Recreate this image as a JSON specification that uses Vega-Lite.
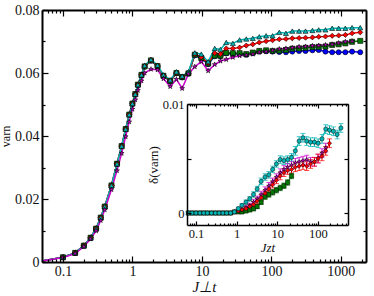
{
"$schema": "https://vega.github.io/schema/vega-lite/v6.json",
"width": 324, "height": 252,
"autosize": {"type": "none"},
"padding": {"left": 42, "top": 10, "right": 8, "bottom": 34},
"config": {
  "view": {"stroke": null},
  "axis": {"grid": false, "domainColor": "#000", "domainWidth": 2, "tickColor": "#000", "tickWidth": 1.2,
    "labelFont": "Liberation Serif", "labelFontSize": 14, "labelColor": "#111", "labelOverlap": false, "labelFlush": false,
    "titleFont": "Liberation Serif", "titleFontStyle": "italic", "titleFontWeight": "normal", "titleFontSize": 15, "titleColor": "#111"}
},
"datasets": {
"main": [
{"s":"B","t":0.05,"v":0.0003},{"s":"B","t":0.1,"v":0.0015},{"s":"B","t":0.15,"v":0.0029},{"s":"B","t":0.2,"v":0.0052},{"s":"B","t":0.25,"v":0.0077},{"s":"B","t":0.3,"v":0.0106},{"s":"B","t":0.35,"v":0.0141},{"s":"B","t":0.4,"v":0.0176},{"s":"B","t":0.5,"v":0.0243},{"s":"B","t":0.6,"v":0.0312},{"s":"B","t":0.7,"v":0.0368},{"s":"B","t":0.8,"v":0.0422},{"s":"B","t":0.9,"v":0.0468},{"s":"B","t":1.0,"v":0.0503},{"s":"B","t":1.1,"v":0.0533},{"s":"B","t":1.2,"v":0.0563},{"s":"B","t":1.35,"v":0.0594},{"s":"B","t":1.5,"v":0.0620},{"s":"B","t":1.85,"v":0.0639},{"s":"B","t":2.3,"v":0.0621},{"s":"B","t":2.8,"v":0.0590},{"s":"B","t":3.5,"v":0.0574},{"s":"B","t":4.3,"v":0.0599},{"s":"B","t":5.2,"v":0.0586},{"s":"B","t":6.4,"v":0.0598},{"s":"B","t":7.9,"v":0.0656},{"s":"B","t":9.8,"v":0.0646},{"s":"B","t":12.3,"v":0.0628},{"s":"B","t":15.3,"v":0.0653},{"s":"B","t":18.5,"v":0.0653},{"s":"B","t":22.4,"v":0.0662},{"s":"B","t":27.9,"v":0.0661},{"s":"B","t":34.9,"v":0.0661},{"s":"B","t":43.5,"v":0.0658},{"s":"B","t":54,"v":0.0663},{"s":"B","t":67,"v":0.0668},{"s":"B","t":84,"v":0.0669},{"s":"B","t":104,"v":0.0668},{"s":"B","t":130,"v":0.0667},{"s":"B","t":162,"v":0.0666},{"s":"B","t":200,"v":0.0668},{"s":"B","t":250,"v":0.0670},{"s":"B","t":310,"v":0.0670},{"s":"B","t":390,"v":0.0672},{"s":"B","t":480,"v":0.0673},{"s":"B","t":600,"v":0.0668},{"s":"B","t":750,"v":0.0666},{"s":"B","t":930,"v":0.0666},{"s":"B","t":1160,"v":0.0666},{"s":"B","t":1450,"v":0.0668},{"s":"B","t":1900,"v":0.0666},
{"s":"G","t":0.05,"v":0.0003},{"s":"G","t":0.1,"v":0.0015},{"s":"G","t":0.15,"v":0.0029},{"s":"G","t":0.2,"v":0.0052},{"s":"G","t":0.25,"v":0.0077},{"s":"G","t":0.3,"v":0.0106},{"s":"G","t":0.35,"v":0.0141},{"s":"G","t":0.4,"v":0.0176},{"s":"G","t":0.5,"v":0.0243},{"s":"G","t":0.6,"v":0.0312},{"s":"G","t":0.7,"v":0.0368},{"s":"G","t":0.8,"v":0.0422},{"s":"G","t":0.9,"v":0.0468},{"s":"G","t":1.0,"v":0.0503},{"s":"G","t":1.1,"v":0.0533},{"s":"G","t":1.2,"v":0.0563},{"s":"G","t":1.35,"v":0.0594},{"s":"G","t":1.5,"v":0.0621},{"s":"G","t":1.85,"v":0.0640},{"s":"G","t":2.3,"v":0.0622},{"s":"G","t":2.8,"v":0.0591},{"s":"G","t":3.5,"v":0.0575},{"s":"G","t":4.3,"v":0.0600},{"s":"G","t":5.2,"v":0.0587},{"s":"G","t":6.4,"v":0.0599},{"s":"G","t":7.9,"v":0.0658},{"s":"G","t":9.8,"v":0.0648},{"s":"G","t":12.3,"v":0.0630},{"s":"G","t":15.3,"v":0.0655},{"s":"G","t":18.5,"v":0.0655},{"s":"G","t":22.4,"v":0.0664},{"s":"G","t":27.9,"v":0.0663},{"s":"G","t":34.9,"v":0.0663},{"s":"G","t":43.5,"v":0.0660},{"s":"G","t":54,"v":0.0665},{"s":"G","t":67,"v":0.0670},{"s":"G","t":84,"v":0.0672},{"s":"G","t":104,"v":0.0670},{"s":"G","t":130,"v":0.0671},{"s":"G","t":162,"v":0.0673},{"s":"G","t":200,"v":0.0677},{"s":"G","t":250,"v":0.0678},{"s":"G","t":310,"v":0.0680},{"s":"G","t":390,"v":0.0682},{"s":"G","t":480,"v":0.0683},{"s":"G","t":600,"v":0.0684},{"s":"G","t":750,"v":0.0689},{"s":"G","t":930,"v":0.0691},{"s":"G","t":1160,"v":0.0694},{"s":"G","t":1450,"v":0.0699},{"s":"G","t":1900,"v":0.0702},
{"s":"R","t":0.05,"v":0.0003},{"s":"R","t":0.1,"v":0.0015},{"s":"R","t":0.15,"v":0.0029},{"s":"R","t":0.2,"v":0.0052},{"s":"R","t":0.25,"v":0.0077},{"s":"R","t":0.3,"v":0.0106},{"s":"R","t":0.35,"v":0.0141},{"s":"R","t":0.4,"v":0.0176},{"s":"R","t":0.5,"v":0.0243},{"s":"R","t":0.6,"v":0.0312},{"s":"R","t":0.7,"v":0.0368},{"s":"R","t":0.8,"v":0.0422},{"s":"R","t":0.9,"v":0.0468},{"s":"R","t":1.0,"v":0.0503},{"s":"R","t":1.1,"v":0.0533},{"s":"R","t":1.2,"v":0.0563},{"s":"R","t":1.35,"v":0.0594},{"s":"R","t":1.5,"v":0.0622},{"s":"R","t":1.85,"v":0.0641},{"s":"R","t":2.3,"v":0.0623},{"s":"R","t":2.8,"v":0.0592},{"s":"R","t":3.5,"v":0.0576},{"s":"R","t":4.3,"v":0.0601},{"s":"R","t":5.2,"v":0.0588},{"s":"R","t":6.4,"v":0.0600},{"s":"R","t":7.9,"v":0.0660},{"s":"R","t":9.8,"v":0.0650},{"s":"R","t":12.3,"v":0.0632},{"s":"R","t":15.3,"v":0.0663},{"s":"R","t":18.5,"v":0.0660},{"s":"R","t":22.4,"v":0.0678},{"s":"R","t":27.9,"v":0.0678},{"s":"R","t":34.9,"v":0.0681},{"s":"R","t":43.5,"v":0.0687},{"s":"R","t":54,"v":0.0691},{"s":"R","t":67,"v":0.0697},{"s":"R","t":84,"v":0.0701},{"s":"R","t":104,"v":0.0704},{"s":"R","t":130,"v":0.0707},{"s":"R","t":162,"v":0.0708},{"s":"R","t":200,"v":0.0710},{"s":"R","t":250,"v":0.0711},{"s":"R","t":310,"v":0.0712},{"s":"R","t":390,"v":0.0713},{"s":"R","t":480,"v":0.0715},{"s":"R","t":600,"v":0.0716},{"s":"R","t":750,"v":0.0718},{"s":"R","t":930,"v":0.0719},{"s":"R","t":1160,"v":0.0721},{"s":"R","t":1450,"v":0.0726},{"s":"R","t":1900,"v":0.0729},
{"s":"C","t":0.05,"v":0.0003},{"s":"C","t":0.1,"v":0.0015},{"s":"C","t":0.15,"v":0.0029},{"s":"C","t":0.2,"v":0.0052},{"s":"C","t":0.25,"v":0.0077},{"s":"C","t":0.3,"v":0.0106},{"s":"C","t":0.35,"v":0.0141},{"s":"C","t":0.4,"v":0.0176},{"s":"C","t":0.5,"v":0.0243},{"s":"C","t":0.6,"v":0.0312},{"s":"C","t":0.7,"v":0.0368},{"s":"C","t":0.8,"v":0.0422},{"s":"C","t":0.9,"v":0.0468},{"s":"C","t":1.0,"v":0.0503},{"s":"C","t":1.1,"v":0.0533},{"s":"C","t":1.2,"v":0.0563},{"s":"C","t":1.35,"v":0.0594},{"s":"C","t":1.5,"v":0.0624},{"s":"C","t":1.85,"v":0.0643},{"s":"C","t":2.3,"v":0.0625},{"s":"C","t":2.8,"v":0.0594},{"s":"C","t":3.5,"v":0.0578},{"s":"C","t":4.3,"v":0.0604},{"s":"C","t":5.2,"v":0.0590},{"s":"C","t":6.4,"v":0.0604},{"s":"C","t":7.9,"v":0.0664},{"s":"C","t":9.8,"v":0.0660},{"s":"C","t":12.3,"v":0.0636},{"s":"C","t":15.3,"v":0.0678},{"s":"C","t":18.5,"v":0.0675},{"s":"C","t":22.4,"v":0.0697},{"s":"C","t":27.9,"v":0.0694},{"s":"C","t":34.9,"v":0.0705},{"s":"C","t":43.5,"v":0.0708},{"s":"C","t":54,"v":0.0710},{"s":"C","t":67,"v":0.0715},{"s":"C","t":84,"v":0.0718},{"s":"C","t":104,"v":0.0718},{"s":"C","t":130,"v":0.0729},{"s":"C","t":162,"v":0.0726},{"s":"C","t":200,"v":0.0733},{"s":"C","t":250,"v":0.0733},{"s":"C","t":310,"v":0.0733},{"s":"C","t":390,"v":0.0735},{"s":"C","t":480,"v":0.0737},{"s":"C","t":600,"v":0.0737},{"s":"C","t":750,"v":0.0742},{"s":"C","t":930,"v":0.0742},{"s":"C","t":1160,"v":0.0742},{"s":"C","t":1450,"v":0.0744},{"s":"C","t":1900,"v":0.0744},
{"s":"M","t":0.05,"v":0.0003},{"s":"M","t":0.1,"v":0.0014},{"s":"M","t":0.15,"v":0.0027},{"s":"M","t":0.2,"v":0.0049},{"s":"M","t":0.25,"v":0.0073},{"s":"M","t":0.3,"v":0.0099},{"s":"M","t":0.35,"v":0.0132},{"s":"M","t":0.4,"v":0.0166},{"s":"M","t":0.5,"v":0.0230},{"s":"M","t":0.6,"v":0.0290},{"s":"M","t":0.7,"v":0.0345},{"s":"M","t":0.8,"v":0.0398},{"s":"M","t":0.9,"v":0.0445},{"s":"M","t":1.0,"v":0.0485},{"s":"M","t":1.1,"v":0.0515},{"s":"M","t":1.2,"v":0.0545},{"s":"M","t":1.35,"v":0.0575},{"s":"M","t":1.5,"v":0.0600},{"s":"M","t":1.85,"v":0.0612},{"s":"M","t":2.3,"v":0.0610},{"s":"M","t":2.8,"v":0.0582},{"s":"M","t":3.5,"v":0.0557},{"s":"M","t":4.3,"v":0.0580},{"s":"M","t":5.2,"v":0.0551},{"s":"M","t":6.4,"v":0.0597},{"s":"M","t":7.9,"v":0.0620},{"s":"M","t":9.8,"v":0.0636},{"s":"M","t":12.3,"v":0.0607},{"s":"M","t":15.3,"v":0.0627},{"s":"M","t":18.5,"v":0.0638},{"s":"M","t":22.4,"v":0.0643},{"s":"M","t":27.9,"v":0.0650},{"s":"M","t":34.9,"v":0.0655},{"s":"M","t":43.5,"v":0.0657},{"s":"M","t":54,"v":0.0660},{"s":"M","t":67,"v":0.0666},{"s":"M","t":84,"v":0.0668},{"s":"M","t":104,"v":0.0672},{"s":"M","t":130,"v":0.0676},{"s":"M","t":162,"v":0.0678},{"s":"M","t":200,"v":0.0680},{"s":"M","t":250,"v":0.0683},{"s":"M","t":310,"v":0.0684},{"s":"M","t":390,"v":0.0686},{"s":"M","t":480,"v":0.0687},{"s":"M","t":600,"v":0.0689},{"s":"M","t":750,"v":0.0691},{"s":"M","t":930,"v":0.0695},{"s":"M","t":1160,"v":0.0699},{"s":"M","t":1450,"v":0.0701}
],
"inset": [
{"s":"G","t":0.065,"d":0,"e":0.00012},{"s":"G","t":0.08,"d":0,"e":0.00012},{"s":"G","t":0.1,"d":0,"e":0.00012},{"s":"G","t":0.125,"d":0,"e":0.00012},{"s":"G","t":0.155,"d":0,"e":0.00012},{"s":"G","t":0.19,"d":0,"e":0.00012},{"s":"G","t":0.24,"d":0,"e":0.00012},{"s":"G","t":0.3,"d":0,"e":0.00012},{"s":"G","t":0.37,"d":0,"e":0.00012},{"s":"G","t":0.46,"d":0,"e":0.00012},{"s":"G","t":0.57,"d":0,"e":0.00012},{"s":"G","t":0.71,"d":0,"e":0.00012},{"s":"G","t":0.88,"d":0.0001,"e":0.00012},{"s":"G","t":1.1,"d":0.0001,"e":0.00015},{"s":"G","t":1.35,"d":0.0001,"e":0.00015},{"s":"G","t":1.7,"d":0.0002,"e":0.00018},{"s":"G","t":2.1,"d":0.0003,"e":0.0002},{"s":"G","t":2.6,"d":0.0004,"e":0.0002},{"s":"G","t":3.2,"d":0.0006,"e":0.0002},{"s":"G","t":4.0,"d":0.0010,"e":0.00022},{"s":"G","t":5.0,"d":0.0015,"e":0.00025},{"s":"G","t":6.2,"d":0.0017,"e":0.00025},{"s":"G","t":7.7,"d":0.0019,"e":0.00025},{"s":"G","t":9.5,"d":0.0021,"e":0.00025},{"s":"G","t":11.8,"d":0.0023,"e":0.00025},{"s":"G","t":14.6,"d":0.0025,"e":0.00025},{"s":"G","t":18,"d":0.0028,"e":0.00025},{"s":"G","t":22.4,"d":0.0034,"e":0.00025},
{"s":"M","t":0.065,"d":0,"e":0.00012},{"s":"M","t":0.08,"d":0,"e":0.00012},{"s":"M","t":0.1,"d":0,"e":0.00012},{"s":"M","t":0.125,"d":0,"e":0.00012},{"s":"M","t":0.155,"d":0,"e":0.00012},{"s":"M","t":0.19,"d":0,"e":0.00012},{"s":"M","t":0.24,"d":0,"e":0.00012},{"s":"M","t":0.3,"d":0,"e":0.00012},{"s":"M","t":0.37,"d":0,"e":0.00012},{"s":"M","t":0.46,"d":0,"e":0.00012},{"s":"M","t":0.57,"d":0,"e":0.00012},{"s":"M","t":0.71,"d":0,"e":0.00012},{"s":"M","t":0.88,"d":0.0001,"e":0.00012},{"s":"M","t":1.1,"d":0.0002,"e":0.00015},{"s":"M","t":1.35,"d":0.0003,"e":0.00015},{"s":"M","t":1.7,"d":0.0005,"e":0.0002},{"s":"M","t":2.1,"d":0.0007,"e":0.0002},{"s":"M","t":2.6,"d":0.0010,"e":0.00025},{"s":"M","t":3.2,"d":0.0013,"e":0.00025},{"s":"M","t":4.0,"d":0.0017,"e":0.0003},{"s":"M","t":5.0,"d":0.0021,"e":0.0003},{"s":"M","t":6.2,"d":0.0025,"e":0.0003},{"s":"M","t":7.7,"d":0.0029,"e":0.0003},{"s":"M","t":9.5,"d":0.0033,"e":0.0003},{"s":"M","t":11.8,"d":0.0037,"e":0.00035},{"s":"M","t":14.6,"d":0.0040,"e":0.00035},{"s":"M","t":18,"d":0.0042,"e":0.00035},{"s":"M","t":22.4,"d":0.0044,"e":0.00035},{"s":"M","t":27.8,"d":0.0046,"e":0.0004},{"s":"M","t":34.5,"d":0.0047,"e":0.0004},{"s":"M","t":42.8,"d":0.0048,"e":0.0004},{"s":"M","t":53,"d":0.0049,"e":0.0004},{"s":"M","t":66,"d":0.0047,"e":0.0004},{"s":"M","t":82,"d":0.0047,"e":0.0004},{"s":"M","t":101,"d":0.0050,"e":0.0004},{"s":"M","t":126,"d":0.0055,"e":0.0004},{"s":"M","t":156,"d":0.0060,"e":0.0004},
{"s":"R","t":0.065,"d":0,"e":0.00012},{"s":"R","t":0.08,"d":0,"e":0.00012},{"s":"R","t":0.1,"d":0,"e":0.00012},{"s":"R","t":0.125,"d":0,"e":0.00012},{"s":"R","t":0.155,"d":0,"e":0.00012},{"s":"R","t":0.19,"d":0,"e":0.00012},{"s":"R","t":0.24,"d":0,"e":0.00012},{"s":"R","t":0.3,"d":0,"e":0.00012},{"s":"R","t":0.37,"d":0,"e":0.00012},{"s":"R","t":0.46,"d":0,"e":0.00012},{"s":"R","t":0.57,"d":0,"e":0.00012},{"s":"R","t":0.71,"d":0,"e":0.00012},{"s":"R","t":0.88,"d":0.0001,"e":0.00012},{"s":"R","t":1.1,"d":0.0002,"e":0.00015},{"s":"R","t":1.35,"d":0.0003,"e":0.00015},{"s":"R","t":1.7,"d":0.0004,"e":0.0002},{"s":"R","t":2.1,"d":0.0006,"e":0.0002},{"s":"R","t":2.6,"d":0.0008,"e":0.00025},{"s":"R","t":3.2,"d":0.0011,"e":0.00025},{"s":"R","t":4.0,"d":0.0014,"e":0.0003},{"s":"R","t":5.0,"d":0.0018,"e":0.0003},{"s":"R","t":6.2,"d":0.0022,"e":0.0003},{"s":"R","t":7.7,"d":0.0026,"e":0.0003},{"s":"R","t":9.5,"d":0.0030,"e":0.0003},{"s":"R","t":11.8,"d":0.0034,"e":0.00035},{"s":"R","t":14.6,"d":0.0037,"e":0.00035},{"s":"R","t":18,"d":0.0039,"e":0.00035},{"s":"R","t":22.4,"d":0.0040,"e":0.00035},{"s":"R","t":27.8,"d":0.0042,"e":0.0004},{"s":"R","t":34.5,"d":0.0043,"e":0.0004},{"s":"R","t":42.8,"d":0.0044,"e":0.0004},{"s":"R","t":53,"d":0.0043,"e":0.0004},{"s":"R","t":66,"d":0.0045,"e":0.0004},{"s":"R","t":82,"d":0.0047,"e":0.0004},{"s":"R","t":101,"d":0.0050,"e":0.0004},{"s":"R","t":126,"d":0.0052,"e":0.0004},{"s":"R","t":156,"d":0.0057,"e":0.0004},{"s":"R","t":193,"d":0.0064,"e":0.0004},
{"s":"C","t":0.065,"d":0,"e":0.00012},{"s":"C","t":0.08,"d":0,"e":0.00012},{"s":"C","t":0.1,"d":0,"e":0.00012},{"s":"C","t":0.125,"d":0,"e":0.00012},{"s":"C","t":0.155,"d":0,"e":0.00012},{"s":"C","t":0.19,"d":0,"e":0.00012},{"s":"C","t":0.24,"d":0,"e":0.00012},{"s":"C","t":0.3,"d":0,"e":0.00012},{"s":"C","t":0.37,"d":0,"e":0.00012},{"s":"C","t":0.46,"d":0,"e":0.00012},{"s":"C","t":0.57,"d":0,"e":0.00012},{"s":"C","t":0.71,"d":0,"e":0.00012},{"s":"C","t":0.88,"d":0.0001,"e":0.00012},{"s":"C","t":1.1,"d":0.0004,"e":0.00015},{"s":"C","t":1.35,"d":0.0007,"e":0.00015},{"s":"C","t":1.7,"d":0.0010,"e":0.0002},{"s":"C","t":2.1,"d":0.0013,"e":0.0002},{"s":"C","t":2.6,"d":0.0017,"e":0.00025},{"s":"C","t":3.2,"d":0.0022,"e":0.00025},{"s":"C","t":4.0,"d":0.0029,"e":0.0003},{"s":"C","t":5.0,"d":0.0033,"e":0.0003},{"s":"C","t":6.2,"d":0.0035,"e":0.0003},{"s":"C","t":7.7,"d":0.0040,"e":0.0003},{"s":"C","t":9.5,"d":0.0045,"e":0.0003},{"s":"C","t":11.8,"d":0.0049,"e":0.00035},{"s":"C","t":14.6,"d":0.0048,"e":0.00035},{"s":"C","t":18,"d":0.0049,"e":0.00035},{"s":"C","t":22.4,"d":0.0051,"e":0.00035},{"s":"C","t":27.8,"d":0.0057,"e":0.0004},{"s":"C","t":34.5,"d":0.0066,"e":0.0004},{"s":"C","t":42.8,"d":0.0069,"e":0.0004},{"s":"C","t":53,"d":0.0066,"e":0.0004},{"s":"C","t":66,"d":0.0065,"e":0.0004},{"s":"C","t":82,"d":0.0065,"e":0.0004},{"s":"C","t":101,"d":0.0064,"e":0.0004},{"s":"C","t":126,"d":0.0068,"e":0.0004},{"s":"C","t":156,"d":0.0077,"e":0.0004},{"s":"C","t":193,"d":0.0076,"e":0.0004},{"s":"C","t":240,"d":0.0075,"e":0.0004},{"s":"C","t":297,"d":0.0072,"e":0.0004},{"s":"C","t":368,"d":0.0078,"e":0.0004}
]
},
"layer": [
{
  "data": {"name": "main"},
  "encoding": {
    "x": {"field": "t", "type": "quantitative", "scale": {"type": "log", "domain": [0.05, 2300], "nice": false},
      "axis": {"orient": "bottom", "zindex": 1, "values": [0.05,0.06,0.07,0.08,0.09,0.1,0.2,0.3,0.4,0.5,0.6,0.7,0.8,0.9,1,2,3,4,5,6,7,8,9,10,20,30,40,50,60,70,80,90,100,200,300,400,500,600,700,800,900,1000,2000],
        "labelExpr": "abs(log(datum.value)/LN10 - round(log(datum.value)/LN10)) < 0.01 ? format(datum.value, '~g') : ''",
        "tickSize": {"condition": {"test": "abs(log(datum.value)/LN10 - round(log(datum.value)/LN10)) < 0.01", "value": -6}, "value": -3},
        "labelPadding": 8, "title": "J⊥t", "titleBaseline": "alphabetic", "titleY": 29}},
    "y": {"field": "v", "type": "quantitative", "scale": {"domain": [0, 0.08], "nice": false, "zero": false},
      "axis": {"orient": "left", "zindex": 1, "values": [0,0.01,0.02,0.03,0.04,0.05,0.06,0.07,0.08],
        "labelExpr": "abs(datum.value*50 - round(datum.value*50)) < 0.01 ? format(datum.value, '.2~f') : ''",
        "tickSize": {"condition": {"test": "abs(datum.value*50 - round(datum.value*50)) < 0.01", "value": -6}, "value": -3},
        "labelPadding": 9, "title": "varn", "titleFontStyle": "normal", "titleFontSize": 12, "titleX": -30, "titleBaseline": "bottom"}},
    "color": {"field": "s", "type": "nominal", "scale": {"domain": ["B","G","R","C","M"], "range": ["#0000ff","#007800","#ff0000","#00b4b4","#cc00cc"]}, "legend": null}
  },
  "layer": [
    {"mark": {"type": "line", "strokeWidth": 1.5, "clip": true}},
    {"transform": [{"filter": "datum.t >= 0.1"}],
     "mark": {"type": "point", "filled": true, "stroke": "#000", "strokeWidth": 0.6, "size": 26, "opacity": 1, "clip": true},
     "encoding": {"shape": {"field": "s", "type": "nominal", "scale": {"domain": ["B","G","R","C","M"], "range": ["circle","square","diamond","triangle-up","M0,-1L0.225,-0.31L0.95,-0.31L0.36,0.12L0.59,0.81L0,0.38L-0.59,0.81L-0.36,0.12L-0.95,-0.31L-0.225,-0.31Z"]}, "legend": null}}}
  ]
},
{
  "data": {"name": "main"},
  "mark": {"type": "point", "opacity": 0},
  "encoding": {
    "x": {"field": "t", "type": "quantitative", "scale": {"type": "log", "domain": [0.05, 2300], "nice": false},
      "axis": {"orient": "top", "zindex": 1, "labels": false, "title": null, "values": [0.05,0.06,0.07,0.08,0.09,0.1,0.2,0.3,0.4,0.5,0.6,0.7,0.8,0.9,1,2,3,4,5,6,7,8,9,10,20,30,40,50,60,70,80,90,100,200,300,400,500,600,700,800,900,1000,2000],
        "tickSize": {"condition": {"test": "abs(log(datum.value)/LN10 - round(log(datum.value)/LN10)) < 0.01", "value": -6}, "value": -3}}},
    "y": {"field": "v", "type": "quantitative", "scale": {"domain": [0, 0.08], "nice": false, "zero": false},
      "axis": {"orient": "right", "zindex": 1, "labels": false, "title": null, "values": [0,0.01,0.02,0.03,0.04,0.05,0.06,0.07,0.08],
        "tickSize": {"condition": {"test": "abs(datum.value*50 - round(datum.value*50)) < 0.01", "value": -6}, "value": -3}}}
  }
},
{
  "data": {"name": "inset"},
  "encoding": {
    "x": {"field": "t", "type": "quantitative", "scale": {"type": "log", "domain": [0.06, 550], "nice": false, "range": [145, 306]},
      "axis": {"orient": "bottom", "offset": -37, "zindex": 1, "domainWidth": 1.5, "labelFontSize": 12.5, "titleFontSize": 13,
        "values": [0.07,0.08,0.09,0.1,0.2,0.3,0.4,0.5,0.6,0.7,0.8,0.9,1,2,3,4,5,6,7,8,9,10,20,30,40,50,60,70,80,90,100,200,300,400,500],
        "labelExpr": "abs(log(datum.value)/LN10 - round(log(datum.value)/LN10)) < 0.01 ? format(datum.value, '~g') : ''",
        "tickSize": {"condition": {"test": "abs(log(datum.value)/LN10 - round(log(datum.value)/LN10)) < 0.01", "value": -4}, "value": -2},
        "labelPadding": 6, "title": "Jzt", "titleBaseline": "alphabetic", "titleY": 26}},
    "y": {"field": "d", "type": "quantitative", "scale": {"domain": [-0.0011, 0.01], "nice": false, "zero": false, "range": [215, 94]},
      "axis": {"orient": "left", "offset": -145, "zindex": 1, "domainWidth": 1.5, "labelFontSize": 12.5, "titleFontSize": 13,
        "values": [0, 0.005, 0.01],
        "labelExpr": "datum.value == 0.005 ? '' : format(datum.value, '~g')",
        "tickSize": -4, "labelPadding": 7, "title": "δ(varn)", "titleFontStyle": "normal", "titlePadding": 2}},
    "color": {"field": "s", "type": "nominal", "legend": null}
  },
  "layer": [
    {"mark": {"type": "errorbar", "ticks": true, "thickness": 1}, "encoding": {"yError": {"field": "e"}}},
    {"mark": {"type": "line", "strokeWidth": 1}},
    {"mark": {"type": "point", "filled": true, "stroke": "#000", "strokeWidth": 0.5, "size": 18, "opacity": 1},
     "encoding": {"shape": {"field": "s", "type": "nominal", "scale": {"domain": ["G","R","M","C"], "range": ["square","diamond","M0,-1L0.225,-0.31L0.95,-0.31L0.36,0.12L0.59,0.81L0,0.38L-0.59,0.81L-0.36,0.12L-0.95,-0.31L-0.225,-0.31Z","circle"]}, "legend": null}}}
  ]
},
{
  "data": {"name": "inset"},
  "mark": {"type": "point", "opacity": 0},
  "encoding": {
    "x": {"field": "t", "type": "quantitative", "scale": {"type": "log", "domain": [0.06, 550], "nice": false, "range": [145, 306]},
      "axis": {"orient": "top", "offset": -94, "zindex": 1, "domainWidth": 1.5, "labels": false, "title": null,
        "values": [0.07,0.08,0.09,0.1,0.2,0.3,0.4,0.5,0.6,0.7,0.8,0.9,1,2,3,4,5,6,7,8,9,10,20,30,40,50,60,70,80,90,100,200,300,400,500],
        "tickSize": {"condition": {"test": "abs(log(datum.value)/LN10 - round(log(datum.value)/LN10)) < 0.01", "value": -4}, "value": -2}}},
    "y": {"field": "d", "type": "quantitative", "scale": {"domain": [-0.0011, 0.01], "nice": false, "zero": false, "range": [215, 94]},
      "axis": {"orient": "right", "offset": -18, "zindex": 1, "domainWidth": 1.5, "labels": false, "title": null,
        "values": [0, 0.005, 0.01], "tickSize": -4}}
  }
}
],
"resolve": {"scale": {"x": "independent", "y": "independent", "shape": "independent"}, "axis": {"x": "independent", "y": "independent"}}
}
